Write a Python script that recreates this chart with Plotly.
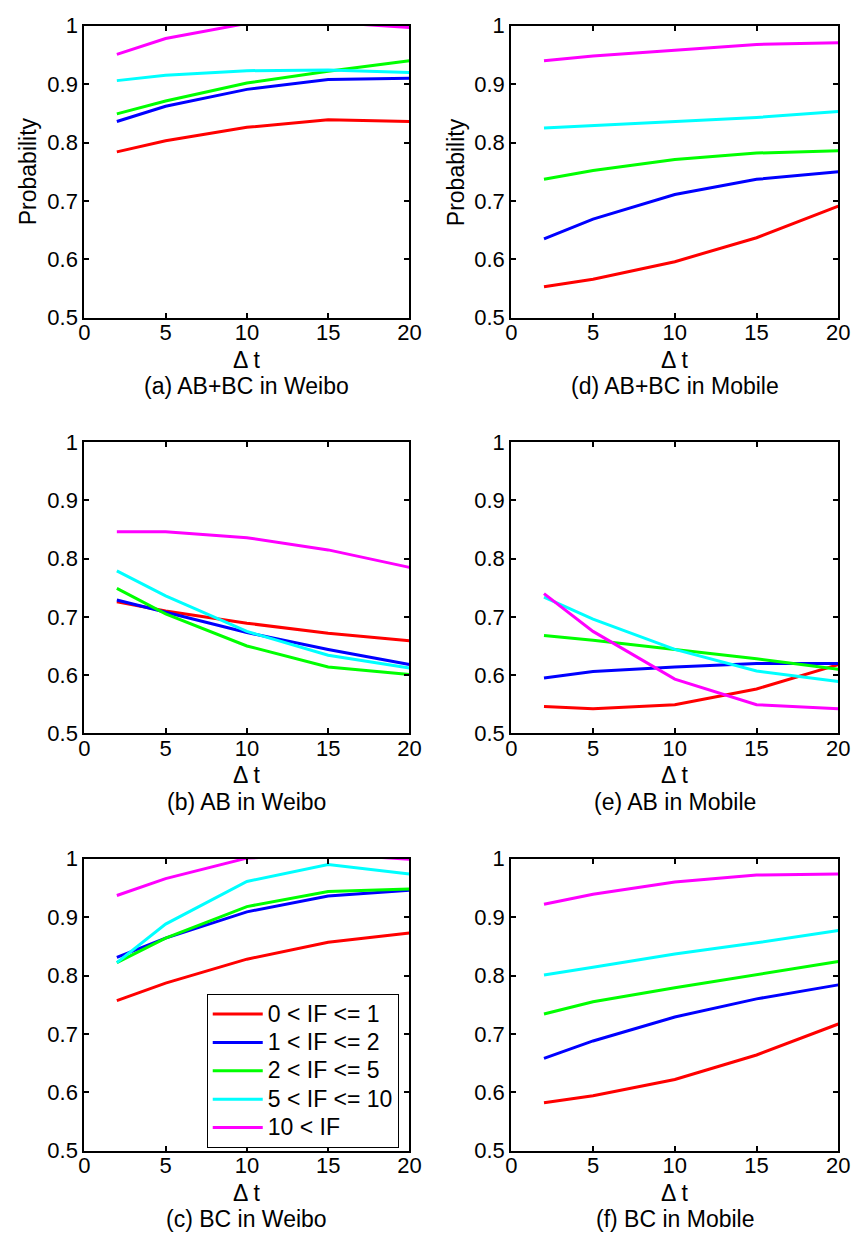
import plotly.graph_objects as go

W, H = 866, 1249
dt = [2, 5, 10, 15, 20]
series_names = ["0 &lt; IF &lt;= 1", "1 &lt; IF &lt;= 2", "2 &lt; IF &lt;= 5", "5 &lt; IF &lt;= 10", "10 &lt; IF"]
colors = ["#FF0000", "#0000FF", "#00FF00", "#00FFFF", "#FF00FF"]

# (a) AB+BC in Weibo
a_if1 = [0.784, 0.803, 0.826, 0.839, 0.836]
a_if2 = [0.836, 0.862, 0.891, 0.908, 0.910]
a_if5 = [0.849, 0.871, 0.902, 0.922, 0.940]
a_if10 = [0.906, 0.915, 0.923, 0.924, 0.920]
a_ifbig = [0.951, 0.978, 1.004, 1.006, 0.997]
# (d) AB+BC in Mobile
d_if1 = [0.553, 0.566, 0.596, 0.637, 0.691]
d_if2 = [0.635, 0.669, 0.711, 0.737, 0.750]
d_if5 = [0.737, 0.752, 0.771, 0.782, 0.786]
d_if10 = [0.825, 0.829, 0.836, 0.843, 0.853]
d_ifbig = [0.940, 0.948, 0.958, 0.968, 0.971]
# (b) AB in Weibo
b_if1 = [0.726, 0.710, 0.689, 0.672, 0.659]
b_if2 = [0.729, 0.708, 0.673, 0.644, 0.618]
b_if5 = [0.749, 0.705, 0.650, 0.614, 0.601]
b_if10 = [0.779, 0.736, 0.675, 0.634, 0.612]
b_ifbig = [0.846, 0.846, 0.836, 0.815, 0.785]
# (e) AB in Mobile
e_if1 = [0.546, 0.542, 0.549, 0.576, 0.618]
e_if2 = [0.595, 0.606, 0.614, 0.620, 0.620]
e_if5 = [0.668, 0.660, 0.644, 0.628, 0.610]
e_if10 = [0.734, 0.696, 0.644, 0.607, 0.589]
e_ifbig = [0.740, 0.675, 0.593, 0.549, 0.542]
# (c) BC in Weibo
c_if1 = [0.757, 0.787, 0.828, 0.857, 0.873]
c_if2 = [0.831, 0.864, 0.909, 0.936, 0.946]
c_if5 = [0.822, 0.864, 0.918, 0.944, 0.948]
c_if10 = [0.822, 0.888, 0.961, 0.990, 0.974]
c_ifbig = [0.937, 0.966, 1.001, 1.008, 0.999]
# (f) BC in Mobile
f_if1 = [0.582, 0.594, 0.622, 0.664, 0.717]
f_if2 = [0.658, 0.688, 0.729, 0.760, 0.784]
f_if5 = [0.734, 0.755, 0.779, 0.801, 0.824]
f_if10 = [0.801, 0.814, 0.837, 0.856, 0.877]
f_ifbig = [0.922, 0.939, 0.960, 0.972, 0.974]

x_ticks = [0, 5, 10, 15, 20]
x_ticklabels = ["0", "5", "10", "15", "20"]
y_ticks = [0.5, 0.6, 0.7, 0.8, 0.9, 1.0]
y_ticklabels = ["0.5", "0.6", "0.7", "0.8", "0.9", "1"]

panels = [
    ("(a) AB+BC in Weibo", [a_if1, a_if2, a_if5, a_if10, a_ifbig], 0, 0, True),
    ("(d) AB+BC in Mobile", [d_if1, d_if2, d_if5, d_if10, d_ifbig], 0, 1, True),
    ("(b) AB in Weibo", [b_if1, b_if2, b_if5, b_if10, b_ifbig], 1, 0, False),
    ("(e) AB in Mobile", [e_if1, e_if2, e_if5, e_if10, e_ifbig], 1, 1, False),
    ("(c) BC in Weibo", [c_if1, c_if2, c_if5, c_if10, c_ifbig], 2, 0, False),
    ("(f) BC in Mobile", [f_if1, f_if2, f_if5, f_if10, f_ifbig], 2, 1, False),
]

col_px = [(80, 412), (516, 850)]
row_px = [(14, 312), (439, 736), (864, 1162)]
ylabel_x = [22, 459]

FONT = "Liberation Sans, Arial, Helvetica, sans-serif"
FS_TICK = 22
FS = 23

fig = go.Figure()
layout = {}
annotations = []
for i, (caption, data, r, c, ylab) in enumerate(panels):
    n = i + 1
    xa = "xaxis" if n == 1 else f"xaxis{n}"
    ya = "yaxis" if n == 1 else f"yaxis{n}"
    xref = "x" if n == 1 else f"x{n}"
    yref = "y" if n == 1 else f"y{n}"
    x0, x1 = col_px[c]
    y0, y1 = row_px[r]
    xdom = [x0 / W, x1 / W]
    ydom = [1 - y1 / H, 1 - y0 / H]
    common = dict(showline=True, linecolor="black", linewidth=2, mirror="ticks",
                  ticks="inside", ticklen=5, tickwidth=2, tickcolor="black",
                  showgrid=False, zeroline=False,
                  tickfont=dict(family=FONT, size=FS_TICK, color="black"))
    layout[xa] = dict(domain=xdom, range=[0, 20], tickvals=x_ticks, ticktext=x_ticklabels,
                      anchor=yref, ticklabelstandoff=-6, **common)
    layout[ya] = dict(domain=ydom, range=[0.5, 1.0], tickvals=y_ticks, ticktext=y_ticklabels,
                      anchor=xref, **common)
    if ylab:
        annotations.append(dict(text="Probability", x=ylabel_x[c] / W, y=1 - (y0 + y1) / 2 / H,
                                xref="paper", yref="paper", showarrow=False, textangle=-90,
                                xanchor="center", yanchor="middle",
                                font=dict(family=FONT, size=FS, color="black")))
    for k, vals in enumerate(data):
        fig.add_trace(go.Scatter(x=dt, y=vals, mode="lines",
                                 name=f'<span style="font-size:{FS}px">{series_names[k]}</span>',
                                 line=dict(color=colors[k], width=3),
                                 xaxis=xref, yaxis=yref,
                                 showlegend=(caption.startswith("(c)"))))
    xc = (x0 + x1) / 2 / W
    annotations.append(dict(text="\u0394 t", x=xc, y=1 - (y1 + 43) / H, xref="paper", yref="paper",
                            showarrow=False, xanchor="center", yanchor="middle",
                            font=dict(family=FONT, size=FS, color="black")))
    annotations.append(dict(text=caption, x=xc, y=1 - (y1 + 70) / H, xref="paper", yref="paper",
                            showarrow=False, xanchor="center", yanchor="middle",
                            font=dict(family=FONT, size=FS, color="black")))

fig.update_layout(
    width=W, height=H, margin=dict(l=0, r=0, t=0, b=0),
    paper_bgcolor="white", plot_bgcolor="white",
    font=dict(family=FONT, size=FS, color="black"),
    annotations=annotations,
    legend=dict(x=205 / W, y=1 - 1002 / H, xanchor="left", yanchor="top",
                bordercolor="black", borderwidth=1, bgcolor="white",
                font=dict(family=FONT, size=19.5, color="black"),
                itemwidth=50, tracegroupgap=0),
    **layout,
)

fig.write_html("out.html")
